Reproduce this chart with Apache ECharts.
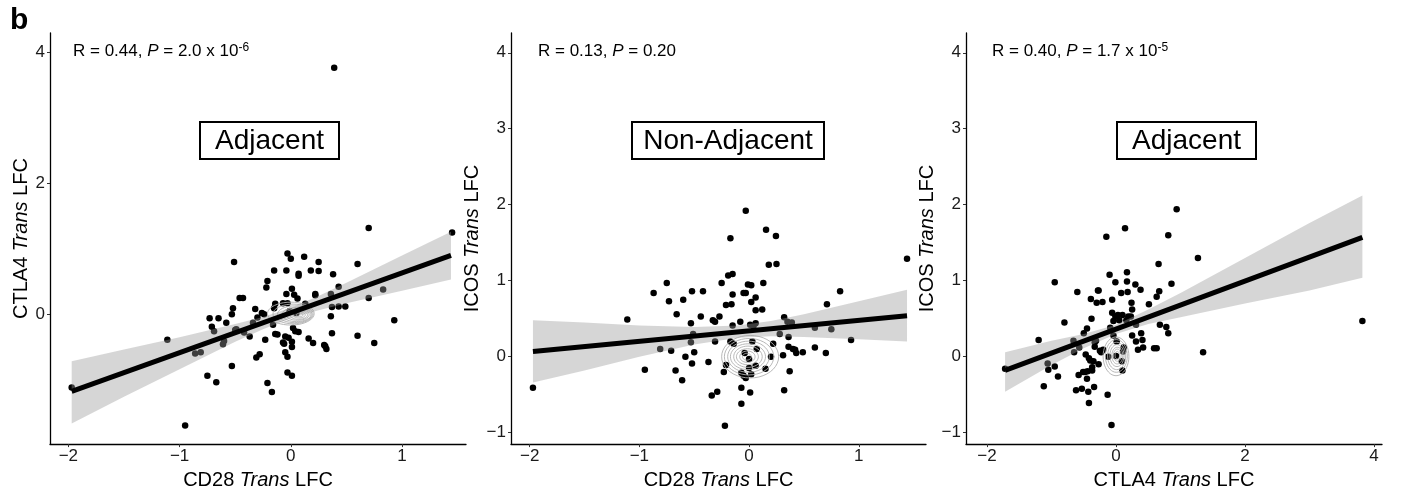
<!DOCTYPE html>
<html><head><meta charset="utf-8">
<script src="https://cdn.jsdelivr.net/npm/echarts@6/dist/echarts.min.js"></script>
<style>html,body{margin:0;padding:0;background:#fff}#c{width:1402px;height:495px}</style>
</head><body><div id="c"></div>
<script>
const FONT = 'Liberation Sans, Arial, sans-serif';

// ---------- Panel 1: CD28 (x) vs CTLA4 (y) ----------
const p1Points = [[-1.97,-1.12],[-1.11,-0.39],[-0.95,-1.70],[-0.86,-0.60],[-0.81,-0.58],[-0.75,-0.94],[-0.73,-0.06],[-0.71,-0.19],[-0.69,-0.26],[-0.67,-1.04],[-0.65,-0.06],[-0.61,-0.46],[-0.60,-0.41],[-0.58,-0.13],[-0.53,-0.79],[-0.53,0.00],[-0.52,0.09],[-0.51,0.80],[-0.50,-0.24],[-0.49,-0.23],[-0.46,0.25],[-0.43,0.25],[-0.42,-0.28],[-0.37,-0.34],[-0.34,-0.13],[-0.32,0.08],[-0.31,-0.66],[-0.30,-0.05],[-0.28,-0.61],[-0.26,0.02],[-0.24,0.00],[-0.22,0.41],[-0.21,0.51],[-0.21,-1.05],[-0.23,-0.39],[-0.17,-1.19],[-0.16,-0.16],[-0.15,0.09],[-0.15,0.67],[-0.14,0.16],[-0.14,-0.30],[-0.12,-0.31],[-0.07,0.17],[-0.07,-0.43],[-0.06,-0.45],[-0.05,-0.34],[-0.05,-0.58],[-0.04,0.67],[-0.04,0.31],[-0.03,-0.65],[-0.03,-0.89],[-0.03,0.93],[-0.02,-0.36],[0.00,0.85],[0.01,-0.42],[0.01,0.39],[0.01,-0.50],[0.01,-0.94],[0.02,-0.21],[0.03,0.30],[0.04,-0.26],[0.06,0.24],[0.07,0.62],[0.07,0.59],[0.07,-0.27],[0.12,0.88],[0.13,0.16],[0.16,-0.37],[0.18,0.67],[0.20,-0.44],[0.22,0.29],[0.22,0.31],[0.25,0.80],[0.25,0.66],[0.30,-0.47],[0.31,-0.49],[0.32,-0.53],[0.36,0.31],[0.36,-0.03],[0.37,-0.29],[0.37,0.11],[0.38,0.61],[0.43,0.42],[0.43,0.12],[0.49,0.12],[0.60,0.77],[0.60,-0.33],[0.70,0.25],[0.75,-0.44],[0.83,0.38],[0.93,-0.09],[0.39,3.77],[0.70,1.32],[1.45,1.25],[-0.03,0.17],[0.05,0.02],[-0.01,0.05]];
const p1LineX = [-1.97, 1.44];
const p1LineY = [-1.18, 0.90];
const p1BandX  = [-1.97,-1.5,-1.0,-0.5,-0.25,0,0.25,0.5,1.0,1.44];
const p1BandLo = [-1.67,-1.26,-0.84,-0.42,-0.23,-0.06,0.06,0.17,0.36,0.53];
const p1BandHi = [-0.72,-0.54,-0.35,-0.15,-0.04,0.10,0.28,0.48,0.90,1.26];
const p1Rings = [[0.00,0.01,0.21,0.175],[0.02,0.005,0.18,0.15],[0.035,0.0,0.155,0.128],[0.05,-0.005,0.13,0.107],[0.06,-0.005,0.105,0.087],[0.07,-0.01,0.08,0.067],[0.075,-0.01,0.055,0.047],[0.08,-0.01,0.03,0.027]];

// ---------- Panel 2: CD28 (x) vs ICOS (y) ----------
const p2Points = [[-1.97,-0.41],[-1.11,0.49],[-0.95,-0.17],[-0.87,0.84],[-0.81,0.10],[-0.75,0.97],[-0.73,0.73],[-0.71,0.08],[-0.67,-0.18],[-0.66,0.56],[-0.61,-0.31],[-0.60,0.75],[-0.58,0.00],[-0.53,0.19],[-0.53,0.44],[-0.52,0.86],[-0.52,-0.09],[-0.51,0.30],[-0.50,0.06],[-0.44,0.53],[-0.42,0.86],[-0.37,-0.07],[-0.34,-0.51],[-0.33,0.48],[-0.31,0.46],[-0.31,0.20],[-0.29,-0.46],[-0.27,0.53],[-0.25,0.97],[-0.23,-0.20],[-0.22,-0.91],[-0.21,-0.11],[-0.21,0.68],[-0.19,1.07],[-0.17,0.20],[-0.17,1.56],[-0.16,0.69],[-0.15,0.82],[-0.15,1.09],[-0.15,0.41],[-0.14,0.17],[-0.08,0.46],[-0.07,-0.62],[-0.07,-0.41],[-0.07,-0.21],[-0.05,0.84],[-0.05,-0.25],[-0.04,0.05],[-0.03,0.84],[-0.03,-0.28],[-0.01,0.95],[0.00,-0.15],[0.00,-0.03],[0.01,-0.47],[0.01,0.42],[0.02,-0.23],[0.02,0.94],[0.02,0.72],[0.03,0.20],[0.04,0.40],[0.06,0.44],[0.06,0.61],[0.06,0.78],[0.07,0.10],[0.06,-0.12],[0.12,0.62],[0.13,0.97],[0.15,-0.16],[0.18,1.21],[0.20,0.00],[0.22,0.17],[0.25,1.22],[0.28,0.30],[0.32,0.52],[0.32,-0.44],[0.31,0.02],[0.35,0.46],[0.36,0.26],[0.36,0.13],[0.37,-0.19],[0.39,0.45],[0.40,0.10],[0.42,0.09],[0.43,0.05],[0.49,0.06],[0.60,0.38],[0.60,0.12],[0.70,0.05],[0.71,0.69],[0.75,0.36],[0.83,0.86],[0.93,0.22],[1.44,1.29],[-0.03,1.92],[0.155,1.67],[0.245,1.59]];
const p2LineX = [-1.97, 1.44];
const p2LineY = [0.07, 0.54];
const p2BandX  = [-1.97,-1.5,-1.0,-0.5,-0.1,0.2,0.5,1.0,1.44];
const p2BandLo = [-0.34,-0.18,0.00,0.16,0.25,0.27,0.26,0.23,0.20];
const p2BandHi = [0.48,0.45,0.41,0.39,0.41,0.47,0.56,0.73,0.88];
const p2Rings = [[0.01,0.0,0.26,0.28],[0.0,0.0,0.225,0.24],[-0.005,0.0,0.19,0.205],[-0.01,0.0,0.16,0.17],[-0.01,0.0,0.13,0.14],[-0.015,0.0,0.10,0.105],[-0.015,0.0,0.07,0.075],[-0.02,0.0,0.04,0.045]];

// ---------- Panel 3: CTLA4 (x) vs ICOS (y) ----------
const p3Points = [[-1.72,-0.16],[-1.20,0.22],[-1.12,-0.39],[-1.06,-0.09],[-1.05,-0.17],[-0.95,0.98],[-0.95,-0.13],[-0.90,-0.26],[-0.80,0.45],[-0.66,0.21],[-0.65,0.06],[-0.62,-0.44],[-0.60,0.85],[-0.58,-0.24],[-0.57,0.12],[-0.53,-0.42],[-0.51,-0.20],[-0.50,0.31],[-0.48,-0.20],[-0.47,0.03],[-0.45,-0.29],[-0.45,0.37],[-0.44,-0.19],[-0.43,-0.46],[-0.42,-0.61],[-0.42,-0.02],[-0.40,-0.05],[-0.39,0.76],[-0.38,0.50],[-0.37,-0.18],[-0.37,-0.14],[-0.35,-0.06],[-0.34,-0.40],[-0.33,0.13],[-0.33,0.19],[-0.31,0.21],[-0.30,0.71],[-0.28,0.87],[-0.27,-0.10],[-0.27,0.87],[-0.25,0.08],[-0.23,0.06],[-0.21,0.72],[-0.20,0.09],[-0.13,-0.50],[-0.12,0.00],[-0.10,1.08],[-0.09,0.38],[-0.07,-0.90],[-0.06,0.75],[-0.06,0.58],[-0.04,0.47],[-0.04,0.28],[-0.01,0.53],[-0.01,0.98],[0.00,0.01],[0.01,0.20],[0.03,0.55],[0.05,0.48],[0.08,0.84],[0.09,-0.06],[0.10,-0.18],[0.10,0.55],[0.11,0.07],[0.12,0.12],[0.16,0.48],[0.17,1.11],[0.17,0.99],[0.18,0.85],[0.19,0.53],[0.23,0.53],[0.24,0.71],[0.25,0.62],[0.25,0.28],[0.30,0.95],[0.31,0.42],[0.31,0.20],[0.34,0.09],[0.38,0.88],[0.39,0.31],[0.41,0.22],[0.42,0.12],[0.51,0.69],[0.59,0.11],[0.63,0.79],[0.63,0.11],[0.66,1.22],[0.67,0.86],[0.68,0.42],[0.78,0.39],[0.81,0.31],[0.86,0.96],[1.27,1.30],[1.35,0.06],[3.82,0.47],[0.94,1.94],[0.14,1.69],[-0.15,1.58],[0.81,1.60]];
const p3LineX = [-1.72, 3.82];
const p3LineY = [-0.18, 1.57];
const p3BandX  = [-1.72,-1.0,-0.5,0,0.5,1.0,2.0,3.0,3.82];
const p3BandLo = [-0.46,-0.11,0.11,0.30,0.43,0.52,0.70,0.87,1.04];
const p3BandHi = [0.06,0.21,0.30,0.42,0.62,0.84,1.30,1.76,2.12];
const p3Rings = [[0.0,0.005,0.20,0.255],[0.005,0.01,0.17,0.215],[0.01,0.01,0.14,0.18],[0.015,0.015,0.11,0.145],[0.02,0.015,0.085,0.11],[0.02,0.02,0.06,0.08],[0.02,0.02,0.035,0.05]];

// ---------- axes / labels ----------
const xTicks = [[-2,-1,0,1],[-2,-1,0,1],[-2,0,2,4]];
const yTicks = [[0,2,4],[-1,0,1,2,3,4],[-1,0,1,2,3,4]];
const xRanges = [[-2.165,1.575],[-2.17,1.613],[-2.326,4.124]];
const yRanges = [[-1.985,4.30],[-1.15,4.26],[-1.15,4.26]];
const xNames = [['CD28','Trans','LFC'],['CD28','Trans','LFC'],['CTLA4','Trans','LFC']];
const yNames = [['CTLA4','Trans','LFC'],['ICOS','Trans','LFC'],['ICOS','Trans','LFC']];
const statR = ['0.44','0.13','0.40'];
const statP = ['2.0 x 10','0.20','1.7 x 10'];
const statExp = ['-6','','-5'];
const boxLabels = ['Adjacent','Non-Adjacent','Adjacent'];

const gridBoxes = [{left:50,top:33,width:416,height:418},{left:511,top:33,width:415,height:418},{left:966,top:33,width:416,height:418}];
const boxRects = [[200,122,139,37],[632,122,192,37],[1117,122,139,37]];
const statPos = [[73,51],[538,51],[992,51]];

const fmt = v => v < 0 ? '\u2212' + Math.abs(v) : String(v);
const nameRich = {a:{fontSize:20,fontFamily:FONT,color:'#000'}, b:{fontSize:20,fontFamily:FONT,fontStyle:'italic',color:'#000'}};

function ringRender(params, api) {
  const c = api.coord([api.value(0), api.value(1)]);
  const s = api.size([api.value(2), api.value(3)]);
  const pts = [];
  for (let k = 0; k < 40; k++) { const t = k / 40 * 2 * Math.PI; pts.push([c[0] + s[0] * Math.cos(t), c[1] + s[1] * Math.sin(t)]); }
  return {type:'polygon', shape:{points:pts}, style:{fill:'none', stroke:'#b0b0b0', lineWidth:0.9}};
}
function bandRender(bx, lo, hi) {
  return function (params, api) {
    const pts = [];
    for (let k = 0; k < bx.length; k++) pts.push(api.coord([bx[k], hi[k]]));
    for (let k = bx.length - 1; k >= 0; k--) pts.push(api.coord([bx[k], lo[k]]));
    return {type:'polygon', shape:{points:pts}, style:{fill:'rgba(153,153,153,0.4)'}};
  };
}

const panels = [
  {pts:p1Points, lx:p1LineX, ly:p1LineY, bx:p1BandX, lo:p1BandLo, hi:p1BandHi, rings:p1Rings},
  {pts:p2Points, lx:p2LineX, ly:p2LineY, bx:p2BandX, lo:p2BandLo, hi:p2BandHi, rings:p2Rings},
  {pts:p3Points, lx:p3LineX, ly:p3LineY, bx:p3BandX, lo:p3BandLo, hi:p3BandHi, rings:p3Rings}
];

const xAxis = [], yAxis = [], series = [], graphic = [];
panels.forEach((p, i) => {
  xAxis.push({
    gridIndex:i, type:'value', min:xRanges[i][0], max:xRanges[i][1],
    splitLine:{show:false},
    axisLine:{onZero:false, lineStyle:{color:'#000', width:1.3}},
    axisTick:{show:true, length:3, inside:false, customValues:xTicks[i], lineStyle:{color:'#333', width:1}},
    axisLabel:{customValues:xTicks[i], formatter:fmt, fontSize:17, fontFamily:FONT, color:'#1a1a1a', margin:4},
    name:'{a|' + xNames[i][0] + ' }{b|' + xNames[i][1] + '}{a| ' + xNames[i][2] + '}',
    nameLocation:'middle', nameGap:22, nameTextStyle:{fontSize:20, fontFamily:FONT, color:'#000', rich:nameRich, verticalAlign:'top'}
  });
  yAxis.push({
    gridIndex:i, type:'value', min:yRanges[i][0], max:yRanges[i][1],
    splitLine:{show:false},
    axisLine:{onZero:false, lineStyle:{color:'#000', width:1.3}},
    axisTick:{show:true, length:3, inside:false, customValues:yTicks[i], lineStyle:{color:'#333', width:1}},
    axisLabel:{customValues:yTicks[i], formatter:fmt, fontSize:17, fontFamily:FONT, color:'#1a1a1a', margin:5},
    name:'{a|' + yNames[i][0] + ' }{b|' + yNames[i][1] + '}{a| ' + yNames[i][2] + '}',
    nameLocation:'middle', nameGap:16, nameTextStyle:{fontSize:20, fontFamily:FONT, color:'#000', rich:nameRich}
  });
  series.push({type:'scatter', xAxisIndex:i, yAxisIndex:i, data:p.pts, symbolSize:6.5, itemStyle:{color:'#000', opacity:1}, z:2, silent:true});
  series.push({type:'custom', xAxisIndex:i, yAxisIndex:i, data:p.rings, renderItem:ringRender, z:3, silent:true, clip:true});
  series.push({type:'custom', xAxisIndex:i, yAxisIndex:i, data:[[p.bx[0], p.lo[0]]], renderItem:bandRender(p.bx, p.lo, p.hi), z:4, silent:true});
  series.push({type:'line', xAxisIndex:i, yAxisIndex:i, data:[[p.lx[0], p.ly[0]],[p.lx[1], p.ly[1]]], symbol:'none', lineStyle:{color:'#000', width:5, cap:'butt'}, z:5, silent:true});

  const statText = statExp[i]
    ? '{n|R = ' + statR[i] + ', }{i|P}{n| = ' + statP[i] + '}{s|' + statExp[i] + '}'
    : '{n|R = ' + statR[i] + ', }{i|P}{n| = ' + statP[i] + '}';
  graphic.push({type:'text', x:statPos[i][0], y:statPos[i][1], z:10, style:{
    text:statText, align:'left', verticalAlign:'middle',
    rich:{n:{fontSize:17, fontFamily:FONT, fill:'#000', color:'#000'},
          i:{fontSize:17, fontFamily:FONT, fontStyle:'italic', fill:'#000', color:'#000'},
          s:{fontSize:12, fontFamily:FONT, fill:'#000', color:'#000', verticalAlign:'top', padding:[0,0,6,0]}}
  }});
  const r = boxRects[i];
  graphic.push({type:'rect', z:10, shape:{x:r[0], y:r[1], width:r[2], height:r[3]}, style:{fill:'#fff', stroke:'#000', lineWidth:2}});
  graphic.push({type:'text', z:11, x:r[0] + r[2] / 2, y:r[1] + r[3] / 2 + 1, style:{text:boxLabels[i], font:'28px ' + FONT, fill:'#000', align:'center', verticalAlign:'middle'}});
});
graphic.push({type:'text', x:10, y:6, style:{text:'b', font:'bold 30px ' + FONT, fill:'#000', align:'left', verticalAlign:'top'}});

const chart = echarts.init(document.getElementById('c'));
chart.setOption({
  animation:false,
  backgroundColor:'#fff',
  grid:gridBoxes,
  xAxis, yAxis, series, graphic
});
</script>
</body></html>
